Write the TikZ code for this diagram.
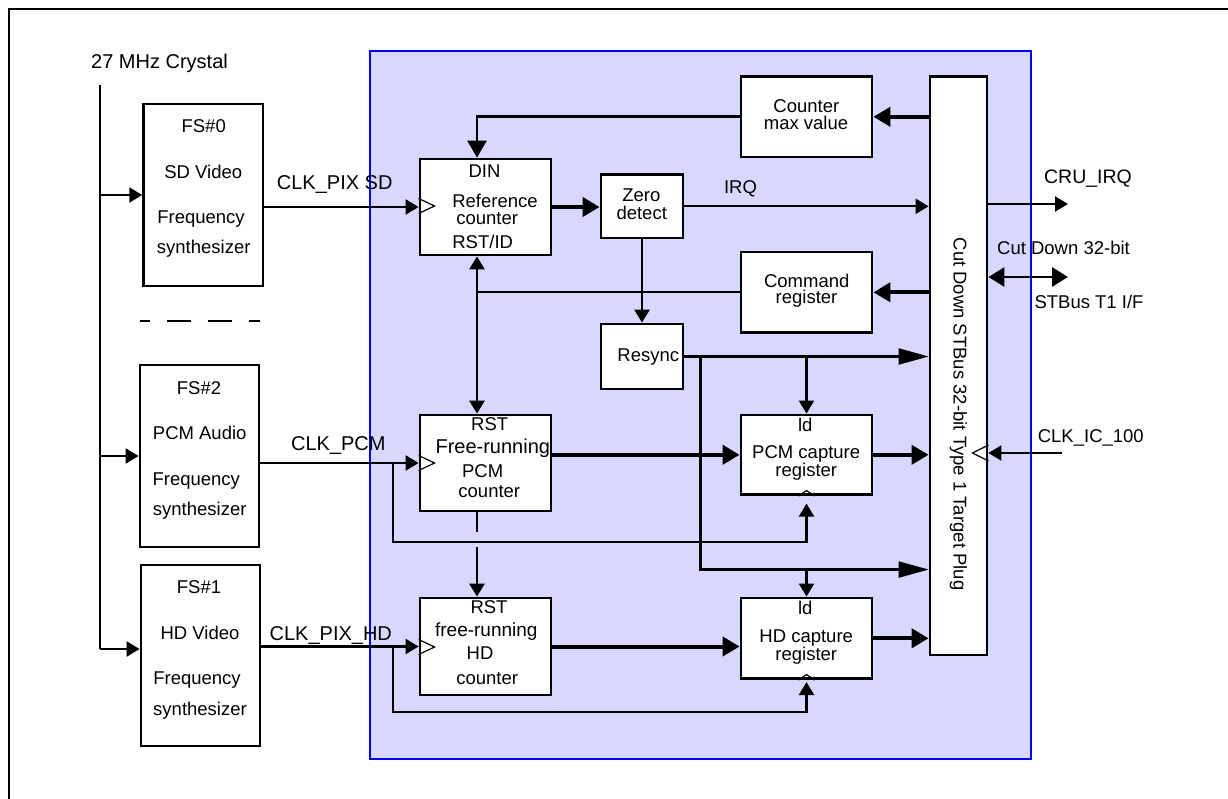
\documentclass[tikz,border=0pt]{standalone}
\usepackage{fontspec}
\setmainfont{Liberation Sans}
\usetikzlibrary{arrows.meta,calc}
\definecolor{corefill}{RGB}{216,216,255}
\definecolor{coreline}{RGB}{0,0,255}

\begin{document}
\begin{tikzpicture}[x=1pt,y=-1pt,
  box/.style={draw,line width=2.8pt,fill=white,inner sep=0pt},
  txt/.style={anchor=base,inner sep=0pt,font=\fontsize{18.5}{18.5}\selectfont},
  lbl/.style={anchor=base,inner sep=0pt,font=\fontsize{20}{20}\selectfont},
  wire/.style={line width=2.2pt},
  wirem/.style={line width=2.8pt},
  wirek/.style={line width=4pt},
  tipS/.style={-{Triangle[length=13pt,width=15pt]}},
  tipL/.style={-{Triangle[length=17pt,width=19pt]}},
  tipB/.style={-{Triangle[length=30pt,width=16pt]}},
  tipSS/.style={{Triangle[length=13pt,width=15pt]}-{Triangle[length=13pt,width=15pt]}},
  tipLL/.style={{Triangle[length=16pt,width=19pt]}-{Triangle[length=16pt,width=19pt]}},
  clkmark/.style={line width=1.2pt,line join=miter}
]
\useasboundingbox (0,0) rectangle (1228,799);

% figure frame
\draw[line width=2.8pt] (9,830) -- (9,9) -- (1250,9);

% CRU core area
\node[draw=coreline,fill=corefill,line width=2.2pt,inner sep=0pt,
      minimum width=661pt,minimum height=708pt] (core) at (700.5,405) {};

% frequency synthesizers
\node[box,minimum width=119.3pt,minimum height=182pt] (fs0) at (203.3,195) {};
\node[box,minimum width=119pt,minimum height=182pt] (fs2) at (199.5,456) {};
\node[box,minimum width=119pt,minimum height=181pt] (fs1) at (200.5,655.5) {};

% CRU blocks
\node[box,minimum width=131pt,minimum height=96pt] (ref) at (485.5,207) {};
\node[box,minimum width=82pt,minimum height=63.3pt] (zero) at (642,206.3) {};
\node[box,minimum width=131pt,minimum height=80.3pt] (cmax) at (806.5,116.8) {};
\node[box,minimum width=131pt,minimum height=80.7pt] (cmd) at (806.5,292.3) {};
\node[box,minimum width=82pt,minimum height=65pt] (resync) at (642,356.5) {};
\node[box,minimum width=131pt,minimum height=96pt] (pcmcnt) at (485.5,463) {};
\node[box,minimum width=131pt,minimum height=79.7pt] (pcmcap) at (806.5,454.8) {};
\node[box,minimum width=131pt,minimum height=97pt] (hdcnt) at (485.5,646.5) {};
\node[box,minimum width=131pt,minimum height=80.7pt] (hdcap) at (806.5,638.3) {};
\node[box,minimum width=57pt,minimum height=578.3pt] (bus) at (958.5,365.8) {};

% helper points
\coordinate (xtop) at (100,85);
\coordinate (xbot) at (100,649);
\coordinate (dinx) at ($(ref.north)+(-8.5,0)$);
\coordinate (tap) at ($(resync.east)+(16,0)$);
\coordinate (hdsync) at ($(tap |- hdcap.north)+(0,-27)$);
\coordinate (pcmtap) at ($(pcmcnt.west)+(-26,0)$);
\coordinate (hdtap) at ($(hdcnt.west)+(-26,0)$);
\coordinate (cruirq) at (1068,204);
\coordinate (stbus) at (1068,277);
\coordinate (clkic) at (1062,453);

% crystal distribution
\draw[wire] (xtop) -- (xbot);
\draw[wire,tipS] (xtop |- fs0.west) -- (fs0.west);
\draw[wire,tipS] (xtop |- fs2.west) -- (fs2.west);
\draw[wire,tipS] (xbot) -- (xbot -| fs1.west);
\draw[wire,dash pattern=on 24pt off 17pt,dash phase=14pt] (140,321) -- (260,321);

% clocks into the counters
\draw[wire,tipS] (fs0.east |- ref.west) -- (ref.west);
\draw[wire,tipS] (fs2.east |- pcmcnt.west) -- (pcmcnt.west);
\draw[wire,tipS] (fs1.east |- hdcnt.west) -- (hdcnt.west);

% clock taps to the capture registers
\draw[wire,tipS] (pcmtap) |- ($(pcmcap.south)+(0,46.3)$) -- ($(pcmcap.south)+(0,7.5)$);
\draw[wire,tipS] (hdtap) |- ($(hdcap.south)+(0,32.3)$) -- ($(hdcap.south)+(0,2)$);

% reference counter path
\draw[wirek,tipL] (ref.east) -- (ref.east -| zero.west);
\draw[wire,tipS] (zero.east) -- (zero.east -| bus.west);
\draw[wirek,tipL] (bus.west |- cmax.east) -- (cmax.east);
\draw[wirem,tipL] (cmax.west) -| (dinx);
\draw[wirek,tipL] (bus.west |- cmd.east) -- (cmd.east);
\draw[wire] (cmd.west) -- (cmd.west -| dinx);
\draw[wirem,tipSS] (ref.south -| dinx) -- (pcmcnt.north -| dinx);
\draw[wirem,tipS] (zero.south) -- (resync.north);

% resync distribution
\draw[wire,tipB] (resync.east) -- (resync.east -| bus.west);
\draw[wire,tipB] (tap) |- (hdsync -| bus.west);
\draw[wire,tipS] (tap -| pcmcap.north) -- (pcmcap.north);
\draw[wire,tipS] (hdsync -| hdcap.north) -- (hdcap.north);

% counters to capture registers to bus
\draw[wirek,tipL] (pcmcap.west -| pcmcnt.east) -- (pcmcap.west);
\draw[wirek,tipL] (hdcnt.east) -- (hdcnt.east -| hdcap.west);
\draw[wirek,tipL] (pcmcap.east) -- (pcmcap.east -| bus.west);
\draw[wirek,tipL] (hdcap.east) -- (hdcap.east -| bus.west);

% reset from PCM counter to HD counter (broken where it crosses)
\draw[wirem] (pcmcnt.south -| dinx) -- ++(0,20);
\draw[wirem,tipS] ($(hdcnt.north -| dinx)+(0,-50)$) -- (hdcnt.north -| dinx);

% external bus side
\draw[wire,tipS] (cruirq -| bus.east) -- (cruirq);
\draw[wirem,tipLL] (stbus -| bus.east) -- (stbus);
\draw[wire,tipS] (clkic) -- (clkic -| bus.east);

% clock input marks
\draw[clkmark] ($(ref.west)+(0,-8.5)$) -- ++(16,7.5) -- ++(-16,7.5);
\draw[clkmark] ($(pcmcnt.west)+(0,-7.5)$) -- ++(16,7.5) -- ++(-16,7.5);
\draw[clkmark] ($(hdcnt.west)+(0,-7)$) -- ++(16,7.5) -- ++(-16,7.5);
\draw[clkmark] ($(pcmcap.south)+(-8,0)$) -- ++(8,-5.5) -- ++(8,5.5);
\draw[clkmark] ($(hdcap.south)+(-8,0)$) -- ++(8,-5.5) -- ++(8,5.5);
\draw[clkmark] ($(clkic -| bus.east)+(0,-8)$) -- ++(-16,8) -- ++(16,8);

% texts
\node[lbl] (t-xtal) at (159.5,69) {27 MHz Crystal};

\node[txt] (t-fs0a) at (203.7,132.5) {FS\#0};
\node[txt] (t-fs0b) at (203.3,179) {SD Video};
\node[txt] (t-fs0c) at (201,224) {Frequency};
\node[txt] (t-fs0d) at (203.7,254) {synthesizer};

\node[txt] (t-fs2a) at (199,394.5) {FS\#2};
\node[txt] (t-fs2b) at (199.7,439.5) {PCM Audio};
\node[txt] (t-fs2c) at (196.3,485) {Frequency};
\node[txt] (t-fs2d) at (199.7,515.5) {synthesizer};

\node[txt] (t-fs1a) at (199,593) {FS\#1};
\node[txt] (t-fs1b) at (200,639.5) {HD Video};
\node[txt] (t-fs1c) at (197,684.5) {Frequency};
\node[txt] (t-fs1d) at (200,715) {synthesizer};

\node[lbl] (t-clksd) at (334.7,189.3) {CLK\_PIX SD};
\node[lbl] (t-clkpcm) at (338.3,450.7) {CLK\_PCM};
\node[lbl] (t-clkhd) at (330.8,640) {CLK\_PIX\_HD};

\node[txt] (t-refa) at (484.5,177.7) {DIN};
\node[txt] (t-refb) at (495,208) {Reference};
\node[txt] (t-refc) at (487.2,225) {counter};
\node[txt] (t-refd) at (482.7,248.5) {RST/ID};

\node[txt] (t-zeroa) at (641.3,202) {Zero};
\node[txt] (t-zerob) at (641.7,220) {detect};
\node[txt] (t-irq) at (740.5,194) {IRQ};

\node[txt] (t-cmaxa) at (806.3,112.8) {Counter};
\node[txt] (t-cmaxb) at (806,130) {max value};
\node[txt] (t-cmda) at (806.7,287.5) {Command};
\node[txt] (t-cmdb) at (806.5,304) {register};
\node[txt] (t-resync) at (648.3,361.5) {Resync};

\node[txt] (t-pcma) at (489.7,430) {RST};
\node[txt,font=\fontsize{20}{20}\selectfont] (t-pcmb) at (492.8,453.3) {Free-running};
\node[txt] (t-pcmc) at (482.7,477.5) {PCM};
\node[txt] (t-pcmd) at (489.3,497.5) {counter};

\node[txt] (t-hda) at (489,613) {RST};
\node[txt,font=\fontsize{19}{19}\selectfont] (t-hdb) at (486.3,636.7) {free-running};
\node[txt] (t-hdc) at (480,659.3) {HD};
\node[txt] (t-hdd) at (487.2,684.3) {counter};

\node[txt] (t-pcapa) at (805.3,431.5) {ld};
\node[txt] (t-pcapb) at (806.2,458.5) {PCM capture};
\node[txt] (t-pcapc) at (806.3,476.5) {register};
\node[txt] (t-hcapa) at (805.3,614.5) {ld};
\node[txt] (t-hcapb) at (806.2,642.5) {HD capture};
\node[txt] (t-hcapc) at (806.3,660.5) {register};

\node[txt,rotate=-90] (t-bus) at (953.5,414) {Cut Down STBus 32-bit Type 1 Target Plug};

\node[txt,font=\fontsize{19.5}{19.5}\selectfont] (t-cruirq) at (1088,183.3) {CRU\_IRQ};
\node[txt] (t-stbusa) at (1063.5,255) {Cut Down 32-bit};
\node[txt] (t-stbusb) at (1089,308.5) {STBus T1 I/F};
\node[txt] (t-clkic) at (1090.8,442) {CLK\_IC\_100};
\end{tikzpicture}
\end{document}
